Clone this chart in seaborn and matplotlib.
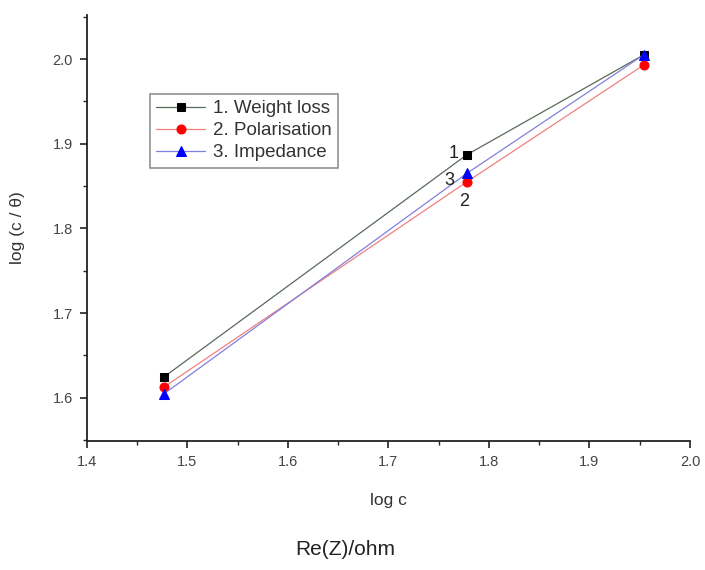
import matplotlib
matplotlib.use("Agg")
import matplotlib.pyplot as plt
import seaborn as sns
import pandas as pd
from matplotlib.ticker import MultipleLocator

log_c = [1.477, 1.778, 1.954]
weight_loss = [1.625, 1.887, 2.005]
polarisation = [1.613, 1.855, 1.993]
impedance = [1.605, 1.865, 2.005]
series_names = ["1. Weight loss", "2. Polarisation", "3. Impedance"]

sns.set_style("ticks")
plt.rcParams['font.family'] = ['Liberation Sans', 'DejaVu Sans']

fig = plt.figure(figsize=(7.05, 5.70), dpi=100)
ax = fig.add_axes([0.1234, 0.2263, 0.8553, 0.7474])

styles = [
    (weight_loss, "#000000", "#5a6a5a", "s", 6),
    (polarisation, "#ff0000", "#f08080", "o", 6.5),
    (impedance, "#0000ff", "#8080e0", "^", 6.5),
]
for (vals, mc, lc, mk, ms), name in zip(styles, series_names):
    df = pd.DataFrame({"x": log_c, "y": vals})
    sns.lineplot(data=df, x="x", y="y", ax=ax, color=lc, lw=0.9,
                 marker=mk, markersize=ms, markerfacecolor=mc,
                 markeredgecolor=mc, label=name)

ax.set_xlim(1.4, 2.0)
ax.set_ylim(1.549, 2.052)
ax.xaxis.set_minor_locator(MultipleLocator(0.05))
ax.yaxis.set_minor_locator(MultipleLocator(0.05))
ax.set_xticks([1.4, 1.5, 1.6, 1.7, 1.8, 1.9, 2.0])
ax.set_xticklabels(["1.4", "1.5", "1.6", "1.7", "1.8", "1.9", "2.0"])
ax.set_yticks([1.6, 1.7, 1.8, 1.9, 2.0])
ax.set_yticklabels(["1.6", "1.7", "1.8", "1.9", "2.0"])
ax.tick_params(which="major", direction="out", length=5, width=1.2, labelsize=10.5,
               colors="#222222", labelcolor="#444444", pad=5)
ax.tick_params(which="minor", direction="out", length=3, width=1.0)
for s in ["left", "bottom"]:
    ax.spines[s].set_linewidth(1.3)
    ax.spines[s].set_color("#222222")
sns.despine(ax=ax)

ax.set_xlabel("log c", fontsize=12.5, labelpad=17, color="#333333")
ax.set_ylabel("log (c / θ)", fontsize=12.5, labelpad=20, color="#333333")

ax.text(1.765, 1.888, "1", fontsize=13, ha="center", va="center", color="#222222")
ax.text(1.761, 1.856, "3", fontsize=13, ha="center", va="center", color="#222222")
ax.text(1.775, 1.832, "2", fontsize=13, ha="center", va="center", color="#222222")

leg = ax.legend(loc="upper left", bbox_to_anchor=(0.104, 0.815), fontsize=13.5,
                frameon=True, fancybox=False, edgecolor="#777777",
                handlelength=2.6, borderpad=0.35, labelspacing=0.25, handletextpad=0.4,
                borderaxespad=0)
leg.get_frame().set_linewidth(1.2)
for t in leg.get_texts():
    t.set_color("#333333")

fig.text(0.49, 0.02, "Re(Z)/ohm", fontsize=15, ha="center", va="bottom", color="#222222")

fig.savefig("out.png", dpi=100)
